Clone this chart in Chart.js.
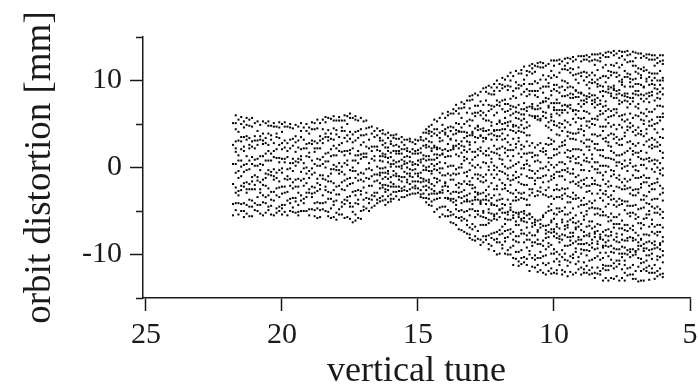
<!DOCTYPE html>
<html>
<head>
<meta charset="utf-8">
<script src="https://cdn.jsdelivr.net/npm/chart.js@4.4.1/dist/chart.umd.min.js"></script>
<style>
  html, body { margin: 0; padding: 0; background: #fff; }
  #wrap { width: 698px; height: 387px; }
</style>
</head>
<body>
<div id="wrap"><canvas id="orbitChart" width="698" height="387"></canvas></div>
<script>
const tunes = [
  21.8, 21.7, 21.6, 21.5, 21.4, 21.3, 21.2, 21.1, 21.0, 20.9,
  20.8, 20.7, 20.6, 20.5, 20.4, 20.3, 20.2, 20.1, 20.0, 19.9,
  19.8, 19.7, 19.6, 19.5, 19.4, 19.3, 19.2, 19.1, 19.0, 18.9,
  18.8, 18.7, 18.6, 18.5, 18.4, 18.3, 18.2, 18.1, 18.0, 17.9,
  17.8, 17.7, 17.6, 17.5, 17.4, 17.3, 17.2, 17.1, 17.0, 16.9,
  16.8, 16.7, 16.6, 16.5, 16.4, 16.3, 16.2, 16.1, 16.0, 15.9,
  15.8, 15.7, 15.6, 15.5, 15.4, 15.3, 15.2, 15.1, 15.0, 14.9,
  14.8, 14.7, 14.6, 14.5, 14.4, 14.3, 14.2, 14.1, 14.0, 13.9,
  13.8, 13.7, 13.6, 13.5, 13.4, 13.3, 13.2, 13.1, 13.0, 12.9,
  12.8, 12.7, 12.6, 12.5, 12.4, 12.3, 12.2, 12.1, 12.0, 11.9,
  11.8, 11.7, 11.6, 11.5, 11.4, 11.3, 11.2, 11.1, 11.0, 10.9,
  10.8, 10.7, 10.6, 10.5, 10.4, 10.3, 10.2, 10.1, 10.0, 9.9,
  9.8, 9.7, 9.6, 9.5, 9.4, 9.3, 9.2, 9.1, 9.0, 8.9,
  8.8, 8.7, 8.6, 8.5, 8.4, 8.3, 8.2, 8.1, 8.0, 7.9,
  7.8, 7.7, 7.6, 7.5, 7.4, 7.3, 7.2, 7.1, 7.0, 6.9,
  6.8, 6.7, 6.6, 6.5, 6.4, 6.3, 6.2, 6.1, 6.0,
];

// orbit distortion [mm] of the dots in each column, top to bottom
const orbit = [
  // 21.8 .. 16.5
  [5.1, 2.6, 0.4, -1.9, -4.2, -5.5],
  [6.0, 5.1, 4.4, 3.0, 2.2, 1.8, 0.4, -0.6, -2.3, -2.9, -4.1, -4.9],
  [5.5, 4.1, 3.1, 1.4, 0.8, -0.4, -1.2, -2.7, -3.2, -4.1, -5.4],
  [5.8, 5.0, 3.5, 3.0, 2.1, 0.8, 0.1, -1.0, -2.1, -2.6, -4.2, -5.0],
  [5.3, 4.6, 3.5, 2.4, 1.9, 0.3, -0.5, -1.8, -2.2, -4.1, -5.0, -5.7],
  [5.7, 4.9, 3.6, 3.2, 1.3, 0.4, -0.3, -1.7, -2.5, -2.9, -4.3, -5.3],
  [5.5, 4.8, 3.4, 2.6, 2.2, 0.8, -0.2, -1.9, -2.5, -3.7, -4.5, -5.6],
  [5.7, 4.7, 3.0, 2.4, 1.2, 0.4, -1.1, -1.6, -2.5, -3.8, -4.5, -5.6],
  [5.1, 3.6, 3.1, 2.2, 0.9, 0.2, -0.9, -2.0, -2.5, -4.1, -4.9],
  [5.3, 4.2, 3.1, 2.6, 1.0, 0.2, -1.1, -1.5, -3.4, -4.3, -5.0],
  [4.9, 3.6, 3.2, 1.3, 0.4, -0.3, -1.7, -2.5, -2.9, -4.3, -5.3],
  [5.3, 3.9, 3.1, 2.7, 1.3, 0.3, -1.4, -2.0, -3.2, -4.0, -5.5],
  [5.1, 3.4, 2.8, 1.6, 0.8, -0.7, -1.2, -2.1, -3.4, -4.1, -5.2],
  [5.3, 4.8, 3.9, 2.6, 1.9, 0.8, -0.3, -0.8, -2.4, -3.2, -4.5, -4.9],
  [4.8, 3.7, 3.2, 1.6, 0.8, -0.5, -0.9, -2.8, -3.7, -4.4, -5.4],
  [5.1, 4.7, 2.8, 1.9, 1.2, -0.2, -1.0, -1.4, -2.8, -3.8, -5.5],
  [4.7, 3.9, 3.5, 2.1, 1.1, -0.6, -1.2, -2.4, -3.2, -4.7, -5.2],
  [5.2, 4.6, 3.4, 2.6, 1.1, 0.6, -0.3, -1.6, -2.3, -3.4, -4.5, -5.0],
  [5.0, 4.1, 2.8, 2.1, 1.0, -0.1, -0.6, -2.2, -3.0, -4.3, -4.7, -5.4],
  [5.2, 4.7, 3.1, 2.3, 1.0, 0.6, -1.3, -2.2, -2.9, -4.3, -5.1],
  [4.7, 2.8, 1.9, 1.2, -0.2, -1.0, -1.4, -2.8, -3.8, -5.5],
  [5.0, 4.6, 3.2, 2.2, 0.5, -0.1, -1.3, -2.1, -3.6, -4.1, -5.0],
  [4.5, 3.3, 2.5, 1.0, 0.5, -0.4, -1.7, -2.4, -3.5, -4.6, -5.1],
  [4.9, 3.6, 2.9, 1.8, 0.7, 0.2, -1.4, -2.2, -3.5, -3.9, -5.2],
  [4.7, 3.1, 2.3, 1.0, 0.6, -1.3, -2.2, -2.9, -4.3, -5.1, -5.5],
  [5.1, 4.2, 3.5, 2.1, 1.3, 0.9, -0.5, -1.5, -3.2, -3.8, -5.0],
  [4.6, 3.2, 2.2, 0.5, -0.1, -1.3, -2.1, -3.6, -4.1, -5.0],
  [5.0, 4.2, 2.7, 2.2, 1.3, 0.0, -0.7, -1.8, -2.9, -3.4, -5.0],
  [4.6, 3.9, 2.8, 1.7, 1.2, -0.4, -1.2, -2.5, -2.9, -4.8, -5.5],
  [5.2, 4.4, 3.1, 2.7, 0.8, -0.1, -0.8, -2.2, -3.0, -3.4, -4.8],
  [5.1, 4.4, 3.0, 2.2, 1.8, 0.4, -0.6, -2.3, -2.9, -4.1, -4.9, -5.6],
  [5.5, 4.5, 2.8, 2.2, 1.0, 0.2, -1.3, -1.8, -2.7, -4.0, -4.7, -5.8],
  [5.1, 3.6, 3.1, 2.2, 0.9, 0.2, -0.9, -2.0, -2.5, -4.1, -4.9, -5.7],
  [5.5, 4.4, 3.3, 2.8, 1.2, 0.4, -0.9, -1.3, -3.2, -4.1, -4.8],
  [5.8, 5.2, 3.9, 3.5, 1.6, 0.7, 0.0, -1.4, -2.2, -2.6, -4.0, -5.0],
  [5.7, 4.3, 3.5, 3.1, 1.7, 0.7, -1.0, -1.6, -2.8, -3.6, -5.1, -5.6],
  [5.6, 3.9, 3.3, 2.1, 1.3, -0.2, -0.7, -1.6, -2.9, -3.6, -4.7, -5.8],
  [5.9, 5.4, 4.5, 3.2, 2.5, 1.4, 0.3, -0.2, -1.8, -2.6, -3.9, -4.3, -5.7],
  [5.4, 4.3, 3.8, 2.2, 1.4, 0.1, -0.3, -2.2, -3.1, -3.8, -5.2, -6.0],
  [5.8, 5.4, 3.5, 2.6, 1.9, 0.5, -0.3, -0.7, -2.1, -3.1, -4.8, -5.4],
  [5.4, 4.6, 4.2, 2.8, 1.8, 0.1, -0.5, -1.7, -2.5, -4.0, -4.5, -5.4],
  [6.0, 5.4, 4.2, 3.4, 1.9, 1.4, 0.5, -0.8, -1.5, -2.6, -3.7, -4.2, -5.8],
  [5.9, 5.0, 3.7, 3.0, 1.9, 0.8, 0.3, -1.3, -2.1, -3.4, -3.8, -5.7],
  [6.2, 5.7, 4.1, 3.3, 2.0, 1.6, -0.3, -1.2, -1.9, -3.3, -4.1, -4.5, -5.9],
  [5.7, 3.8, 2.9, 2.2, 0.8, 0.0, -0.4, -1.8, -2.8, -4.5, -5.1, -6.3],
  [5.9, 5.5, 4.1, 3.1, 1.4, 0.8, -0.4, -1.2, -2.7, -3.2, -4.1, -5.4, -6.1],
  [5.4, 4.2, 3.4, 1.9, 1.4, 0.5, -0.8, -1.5, -2.6, -3.7, -4.2, -5.8],
  [5.7, 4.4, 3.7, 2.6, 1.5, 1.0, -0.6, -1.4, -2.7, -3.1, -5.0, -5.9],
  [5.3, 3.7, 2.9, 1.6, 1.2, -0.7, -1.6, -2.3, -3.7, -4.5, -4.9],
  [5.4, 4.5, 3.8, 2.4, 1.6, 1.2, -0.2, -1.2, -2.9, -3.5, -4.7],
  [4.6, 3.2, 2.2, 0.5, -0.1, -1.3, -2.1, -3.6, -4.1, -5.0],
  [4.7, 3.9, 2.4, 1.9, 1.0, -0.3, -1.0, -2.1, -3.2, -3.7, -4.6],
  [4.2, 3.5, 2.4, 1.3, 0.8, -0.8, -1.6, -2.9, -3.3, -4.4],
  [4.5, 3.7, 2.4, 2.0, 0.1, -0.8, -1.5, -2.9, -3.7, -4.1],
  // 16.4 .. 14.5 (waist)
  [4.2, 3.4, 3.1, 1.9, 1.3, 0.8, -0.1, -0.6, -0.9, -1.8, -2.4, -3.5, -3.9],
  [4.3, 3.9, 3.1, 2.6, 1.6, 1.3, 0.7, -0.1, -0.6, -1.3, -2.0, -2.3, -3.3, -3.8],
  [3.8, 2.8, 2.3, 1.5, 1.2, 0.0, -0.6, -1.1, -2.0, -2.5, -2.8, -3.7, -4.3],
  [4.0, 3.4, 2.3, 1.9, 1.1, 0.6, -0.4, -0.7, -1.3, -2.1, -2.6, -3.3, -4.0],
  [3.7, 3.0, 2.7, 1.7, 1.2, 0.4, 0.1, -1.1, -1.7, -2.2, -3.1, -3.6, -3.9],
  [3.7, 3.4, 2.5, 1.9, 0.8, 0.4, -0.4, -0.9, -1.9, -2.2, -2.8, -3.6],
  [3.8, 3.3, 2.6, 1.9, 1.6, 0.6, 0.1, -0.7, -1.0, -2.2, -2.8, -3.3],
  [3.3, 2.4, 1.9, 1.6, 0.7, 0.1, -1.0, -1.4, -2.2, -2.7, -3.7],
  [3.5, 2.9, 2.1, 1.6, 0.9, 0.2, -0.1, -1.1, -1.6, -2.4, -2.7, -3.4],
  [3.2, 2.6, 2.1, 1.2, 0.7, 0.4, -0.5, -1.1, -2.2, -2.6, -3.4],
  [3.2, 2.2, 1.9, 1.3, 0.5, 0.0, -0.7, -1.4, -1.7, -2.7, -3.2],
  [3.3, 3.0, 1.8, 1.2, 0.7, -0.2, -0.7, -1.0, -1.9, -2.5, -3.1],
  [2.9, 2.1, 1.6, 0.6, 0.3, -0.3, -1.1, -1.6, -2.3, -3.0],
  [3.2, 2.7, 1.9, 1.6, 0.4, -0.2, -0.7, -1.6, -2.1, -2.4, -3.0],
  [3.1, 2.0, 1.6, 0.8, 0.3, -0.7, -1.0, -1.6, -2.4, -2.9],
  [3.5, 3.2, 2.2, 1.7, 0.9, 0.6, -0.6, -1.2, -1.7, -2.6, -3.1, -3.4],
  [4.0, 3.1, 2.5, 1.4, 1.0, 0.2, -0.3, -1.3, -1.6, -2.2, -3.0, -3.5],
  [4.4, 4.0, 3.3, 2.6, 2.3, 1.3, 0.8, 0.0, -0.3, -1.5, -2.1, -2.6, -3.5, -4.0],
  [4.7, 4.2, 3.9, 3.0, 2.4, 1.3, 0.9, 0.1, -0.4, -1.4, -1.7, -2.3, -3.1, -3.6, -4.3],
  [4.9, 4.1, 3.6, 2.9, 2.2, 1.9, 0.9, 0.4, -0.4, -0.7, -1.9, -2.5, -3.0, -3.9, -4.4],
  // 14.4 .. 6.0
  [5.5, 4.4, 3.9, 2.5, 2.3, 1.5, 0.9, 0.2, -0.2, -1.2, -2.1, -2.7, -3.0, -3.7, -5.1],
  [5.3, 4.4, 3.7, 2.3, 2.1, 1.5, 1.1, 0.4, -0.3, -1.3, -1.7, -3.0, -3.6, -4.8],
  [5.7, 4.0, 3.4, 3.0, 2.2, 1.4, 0.6, -0.1, -0.6, -1.5, -2.8, -2.9, -3.5, -4.6, -5.7],
  [6.2, 4.9, 4.2, 3.1, 2.0, 1.6, 1.5, -0.1, -0.9, -2.2, -2.6, -2.9, -4.5, -5.4],
  [5.7, 4.4, 4.0, 3.8, 2.1, 1.2, 0.5, -0.9, -1.7, -1.8, -2.1, -3.5, -4.5, -5.6],
  [6.4, 6.0, 4.6, 3.6, 2.7, 1.9, 1.3, 0.1, -0.7, -2.2, -2.7, -3.5, -3.6, -4.9, -5.6],
  [6.2, 4.7, 4.2, 3.3, 3.2, 2.0, 1.3, 0.2, -0.9, -1.4, -3.0, -3.6, -3.8, -5.1, -5.5, -6.3],
  [6.7, 6.2, 4.6, 3.8, 2.5, 2.3, 2.1, 0.2, -0.7, -1.4, -2.8, -3.6, -4.0, -5.4, -6.4],
  [7.2, 6.5, 5.1, 4.3, 3.9, 3.1, 2.5, 1.5, -0.2, -0.8, -2.0, -2.8, -3.8, -4.3, -4.8, -5.7, -6.6],
  [6.8, 6.2, 5.0, 4.2, 4.1, 2.7, 2.2, 1.3, 0.0, -0.7, -1.8, -2.3, -2.9, -3.4, -5.0, -5.8, -7.1],
  [7.5, 6.8, 5.7, 4.6, 4.1, 3.0, 2.5, 1.7, 0.4, 0.0, -1.9, -2.8, -3.5, -4.1, -4.9, -5.7, -6.1, -7.2],
  [7.3, 6.9, 5.0, 4.1, 3.4, 2.4, 2.0, 1.2, 0.8, -0.6, -1.6, -2.6, -3.3, -3.9, -5.1, -5.9, -7.4],
  [7.7, 6.3, 5.3, 4.0, 3.6, 3.0, 1.8, 1.0, -0.5, -1.0, -1.9, -3.2, -3.7, -3.9, -5.0, -6.1, -6.6, -7.6],
  [8.2, 7.7, 6.8, 5.5, 4.8, 3.7, 2.9, 2.6, 2.1, 0.5, -0.3, -1.6, -2.0, -3.0, -3.9, -4.8, -5.5, -6.9, -7.7, -8.1],
  [8.3, 7.8, 6.2, 5.4, 4.1, 3.9, 3.7, 1.8, 0.9, 0.2, -1.2, -2.0, -2.4, -3.8, -4.2, -4.8, -6.5, -7.1, -8.3],
  [8.5, 7.1, 6.3, 5.9, 4.5, 3.5, 2.9, 1.8, 1.2, 0.0, -0.8, -2.3, -2.8, -3.4, -3.7, -5.0, -5.7, -6.8, -7.9, -8.4],
  [8.3, 7.1, 6.3, 4.8, 4.7, 4.3, 3.4, 2.1, 1.4, 0.3, -0.8, -1.3, -2.9, -3.1, -3.7, -5.0, -5.4, -7.3, -8.2],
  [8.7, 7.6, 6.5, 6.0, 4.4, 3.7, 3.6, 2.3, 1.9, 0.0, -0.9, -1.6, -3.0, -3.8, -4.0, -4.2, -5.6, -6.6, -8.3, -8.9],
  [9.1, 7.2, 6.3, 5.6, 4.5, 4.2, 3.4, 3.0, 1.6, 0.6, -1.1, -1.7, -2.9, -3.7, -5.0, -5.2, -5.7, -6.6, -7.9, -8.6],
  [9.2, 8.7, 7.7, 6.0, 5.4, 4.2, 3.4, 3.3, 1.9, 1.4, 0.5, -0.8, -1.5, -2.6, -3.3, -3.7, -4.2, -5.8, -6.6, -7.9, -8.3],
  [9.4, 8.5, 7.2, 6.5, 5.4, 4.3, 3.8, 2.2, 1.4, 0.1, -0.3, -2.2, -3.1, -3.8, -4.8, -5.2, -6.0, -6.4, -7.8, -8.8, -9.4],
  [9.2, 8.4, 7.1, 6.7, 5.2, 4.8, 3.9, 3.2, 1.8, 1.0, 0.6, -0.8, -1.8, -3.5, -4.1, -4.3, -5.3, -6.1, -7.6, -8.1, -9.0],
  [9.6, 8.8, 8.4, 7.0, 6.0, 4.3, 4.2, 3.7, 2.5, 1.7, 0.2, -0.3, -1.2, -2.5, -3.2, -4.3, -5.4, -5.6, -5.9, -7.5, -8.3, -9.6],
  [10.0, 9.2, 7.7, 7.2, 6.3, 5.0, 4.3, 3.6, 3.2, 2.1, 1.6, 0.0, -0.8, -2.1, -2.5, -3.8, -4.4, -5.3, -6.0, -7.4, -8.2, -8.6, -10.0],
  [9.6, 8.8, 7.5, 7.1, 5.4, 5.2, 4.3, 3.6, 2.2, 1.4, 1.0, -0.4, -1.4, -3.1, -3.7, -4.8, -4.9, -5.7, -7.2, -7.7, -8.6, -9.9],
  [10.3, 9.5, 9.1, 7.7, 6.7, 5.0, 4.4, 3.9, 3.2, 2.4, 0.9, 0.4, -0.5, -1.8, -2.5, -3.6, -4.2, -4.7, -5.2, -6.8, -7.6, -8.9, -9.3],
  [10.1, 9.3, 7.8, 7.3, 6.4, 5.7, 5.1, 4.4, 3.3, 2.2, 1.7, 0.1, -0.7, -2.0, -2.4, -4.3, -5.2, -5.9, -6.5, -7.3, -8.1, -8.5, -9.9],
  [10.5, 9.4, 8.9, 7.3, 6.5, 5.2, 4.8, 3.7, 2.9, 2.0, 1.3, -0.1, -0.9, -1.3, -2.7, -3.7, -5.1, -5.4, -6.0, -7.2, -8.0, -9.5, -10.0],
  [10.9, 10.0, 9.3, 7.9, 7.1, 6.7, 6.0, 5.3, 4.3, 2.6, 2.0, 0.8, 0.0, -1.5, -2.0, -2.9, -4.2, -4.6, -4.9, -6.0, -7.1, -7.6, -9.2, -10.0],
  [10.5, 8.8, 8.2, 7.0, 6.2, 4.9, 4.7, 4.2, 3.3, 2.0, 1.3, 0.2, -0.9, -1.4, -3.0, -3.8, -5.1, -5.5, -5.8, -7.4, -8.3, -9.0, -10.4, -11.2],
  [11.1, 9.8, 9.1, 8.0, 6.9, 6.4, 5.7, 4.8, 4.0, 2.7, 2.3, 0.4, -0.5, -1.2, -2.6, -3.4, -3.8, -5.2, -6.2, -6.6, -7.9, -8.5, -9.7, -10.5],
  [10.8, 9.5, 9.1, 7.2, 6.3, 5.6, 4.6, 4.2, 3.4, 3.0, 1.6, 0.6, -1.1, -1.7, -2.9, -3.7, -5.2, -5.4, -5.7, -6.6, -7.9, -8.6, -9.7, -10.8, -11.3],
  [11.2, 10.8, 9.4, 8.4, 6.7, 6.1, 5.4, 4.9, 4.1, 2.6, 2.1, 1.2, -0.1, -0.8, -1.9, -3.0, -3.5, -5.1, -5.9, -6.1, -7.2, -7.6, -9.5, -10.4, -11.1],
  [11.6, 10.1, 9.6, 8.7, 7.4, 6.7, 6.1, 5.6, 4.5, 4.0, 2.4, 1.6, 0.3, -0.1, -2.0, -2.9, -3.6, -5.0, -5.3, -5.8, -6.2, -7.6, -8.6, -10.3, -10.9],
  [11.1, 10.6, 9.0, 8.2, 6.9, 6.5, 5.2, 4.6, 3.7, 3.0, 1.6, 0.8, 0.4, -1.0, -2.0, -3.7, -4.3, -5.5, -6.3, -6.9, -7.8, -8.3, -9.2, -10.5, -11.2],
  [11.7, 11.0, 9.6, 8.8, 8.4, 7.0, 6.0, 4.8, 3.7, 2.5, 1.7, 0.2, -0.3, -1.2, -2.5, -3.2, -4.3, -5.3, -5.4, -5.9, -7.5, -8.3, -9.6, -10.0, -11.9],
  [11.9, 11.4, 10.8, 9.6, 8.8, 7.3, 7.0, 6.8, 5.9, 2.8, 1.7, 1.2, -0.4, -1.2, -2.5, -2.9, -5.7, -6.4, -6.8, -7.8, -8.6, -9.0, -10.4, -11.4],
  [11.7, 11.0, 9.9, 8.8, 8.3, 6.7, 5.9, 5.7, 2.3, 1.4, 0.7, -0.7, -1.5, -1.9, -3.3, -6.0, -6.3, -6.6, -7.8, -8.6, -10.1, -10.6, -11.5],
  [12.0, 11.6, 9.7, 8.8, 8.1, 7.1, 6.7, 5.9, 5.5, 2.6, 1.4, 0.8, -0.4, -1.2, -2.7, -3.2, -6.1, -7.2, -7.4, -8.3, -8.8, -10.4, -11.2, -12.0],
  [12.1, 11.5, 10.1, 9.1, 7.4, 6.8, 5.6, 5.4, 2.8, 1.9, 0.6, -0.1, -1.2, -2.3, -2.8, -6.0, -6.5, -6.9, -8.8, -9.7, -10.4, -11.8],
  [12.0, 11.5, 10.6, 9.3, 8.6, 7.6, 7.5, 6.4, 5.9, 2.2, 1.8, -0.1, -1.0, -1.7, -3.1, -5.5, -5.7, -6.7, -8.4, -9.0, -10.2, -11.0, -12.1],
  [11.7, 10.1, 9.3, 8.0, 7.6, 6.3, 5.7, 4.8, 2.7, 1.9, 1.5, 0.1, -0.9, -2.6, -3.2, -5.2, -6.7, -7.2, -7.6, -8.1, -9.4, -10.1, -11.2, -12.3],
  [11.9, 10.5, 9.7, 9.3, 7.9, 7.1, 6.9, 5.2, 4.6, 3.4, 2.6, 1.1, 0.6, -0.3, -1.6, -2.3, -3.4, -4.5, -5.0, -6.6, -7.4, -8.0, -8.7, -9.1, -11.0, -11.9],
  [12.3, 11.1, 10.3, 8.8, 8.3, 7.4, 6.1, 5.8, 5.4, 4.3, 3.2, 2.7, 1.1, 0.3, -1.0, -1.4, -3.3, -4.2, -4.9, -6.1, -6.3, -7.1, -7.5, -8.9, -9.9, -11.6, -12.2],
  [12.3, 11.7, 10.6, 9.5, 9.0, 7.4, 6.9, 6.6, 5.3, 4.9, 3.0, 2.1, 1.4, 0.0, -0.8, -1.2, -2.6, -3.6, -5.3, -5.9, -7.1, -7.4, -7.9, -9.4, -9.9, -10.8, -12.1],
  [12.3, 10.4, 9.5, 8.8, 7.8, 7.4, 6.6, 6.2, 4.8, 3.8, 2.1, 1.5, 0.3, -0.5, -2.0, -2.5, -3.4, -4.7, -5.4, -6.5, -6.8, -7.6, -8.1, -9.7, -10.5, -11.8, -12.2],
  [12.4, 11.9, 10.9, 9.2, 8.6, 7.4, 6.6, 6.0, 5.1, 4.6, 3.7, 2.4, 1.7, 0.6, -0.5, -1.0, -2.6, -3.4, -4.7, -5.1, -7.0, -7.9, -8.2, -8.6, -10.0, -10.8, -11.2],
  [12.2, 11.3, 10.0, 9.3, 8.2, 7.1, 6.6, 6.3, 5.0, 4.2, 2.9, 2.5, 0.6, -0.3, -1.0, -2.4, -3.2, -3.6, -5.0, -6.0, -6.3, -7.7, -8.3, -9.5, -10.3, -11.8, -12.3],
  [12.5, 11.7, 11.3, 9.9, 8.9, 8.2, 7.2, 6.6, 5.4, 4.6, 3.1, 2.6, 1.7, 0.4, -0.3, -1.4, -2.5, -3.0, -4.6, -5.4, -6.7, -7.1, -7.8, -9.0, -9.9, -10.6, -12.0],
  [12.6, 12.0, 11.2, 9.7, 9.2, 8.3, 7.1, 7.0, 6.3, 5.2, 4.1, 3.6, 2.0, 1.2, -0.1, -0.5, -2.4, -3.3, -4.0, -5.4, -6.2, -6.6, -6.9, -8.0, -9.0, -10.7, -11.3, -12.5],
  [12.5, 11.4, 10.9, 9.3, 8.5, 8.0, 7.2, 6.8, 4.9, 4.0, 3.3, 1.9, 1.1, 0.7, -0.7, -1.7, -3.4, -4.0, -5.2, -6.0, -7.5, -8.0, -8.4, -8.9, -10.2, -10.9, -12.0],
  [12.7, 12.2, 11.3, 10.6, 9.2, 8.4, 8.0, 6.6, 6.5, 5.6, 3.9, 3.3, 2.1, 1.3, -0.2, -0.7, -1.6, -2.9, -3.6, -4.7, -5.8, -6.3, -7.5, -7.9, -8.7, -10.0, -10.4, -12.3],
  [12.4, 10.7, 10.1, 8.9, 8.8, 8.1, 6.6, 6.1, 5.2, 3.9, 3.2, 2.1, 1.0, 0.5, -1.1, -1.9, -3.2, -3.6, -5.5, -6.4, -6.9, -7.1, -8.5, -9.3, -9.7, -11.1, -12.1],
  [12.8, 11.5, 10.8, 9.7, 8.6, 8.1, 7.3, 6.5, 5.7, 4.4, 4.0, 2.1, 1.2, 0.5, -0.9, -1.7, -2.1, -3.5, -4.5, -6.2, -6.8, -8.0, -8.3, -8.8, -10.3, -10.8, -11.7],
  [12.8, 12.2, 10.9, 10.5, 8.6, 8.5, 7.7, 7.0, 5.6, 4.8, 4.4, 3.0, 2.0, 0.3, -0.3, -1.5, -2.3, -3.8, -4.3, -5.2, -6.5, -7.2, -8.3, -8.8, -9.4, -9.9, -11.5, -12.3],
  [12.8, 12.4, 11.0, 10.0, 8.3, 7.7, 7.3, 6.5, 5.7, 4.2, 3.7, 2.8, 1.5, 0.8, -0.3, -1.4, -1.9, -3.5, -4.3, -5.6, -6.0, -7.4, -7.9, -8.8, -9.5, -10.9, -11.7, -12.1],
  [12.9, 12.4, 10.9, 10.4, 9.5, 8.2, 7.9, 7.5, 6.4, 5.3, 4.8, 3.2, 2.4, 1.1, 0.7, -1.2, -2.1, -2.8, -4.2, -5.0, -5.4, -6.8, -7.8, -8.7, -9.5, -10.1, -11.3, -12.1],
  [12.7, 12.2, 10.6, 9.8, 9.1, 8.5, 8.1, 6.2, 5.3, 4.6, 3.2, 2.4, 2.0, 0.6, -0.4, -2.1, -2.7, -3.9, -4.7, -6.2, -6.7, -7.6, -7.9, -8.9, -9.6, -10.7, -11.8, -12.3],
  [13.0, 12.3, 10.9, 10.1, 9.7, 8.3, 7.7, 7.3, 5.6, 5.0, 3.8, 3.0, 1.5, 1.0, 0.1, -1.2, -1.9, -3.0, -4.1, -4.6, -6.2, -7.0, -8.3, -8.7, -9.2, -10.6, -11.5, -12.2],
  [13.0, 12.4, 11.8, 10.6, 9.8, 8.3, 7.8, 7.5, 6.9, 5.6, 4.9, 3.8, 2.7, 2.2, 0.6, -0.2, -1.5, -1.9, -3.8, -4.7, -5.4, -6.8, -7.4, -7.6, -8.0, -9.4, -10.4, -12.1, -12.7],
  [13.0, 12.3, 11.2, 10.1, 9.6, 9.3, 8.0, 7.2, 5.9, 5.5, 3.6, 2.7, 2.0, 0.6, -0.2, -0.6, -2.0, -3.0, -4.7, -5.3, -6.5, -7.3, -8.5, -8.8, -9.3, -10.2, -11.5, -12.2],
  [13.1, 12.6, 12.2, 10.3, 9.4, 8.7, 7.7, 7.3, 6.5, 6.1, 4.7, 3.7, 2.0, 1.4, 0.2, -0.6, -2.1, -2.6, -3.5, -4.8, -5.5, -6.6, -7.7, -8.0, -8.2, -9.8, -10.6, -11.9, -12.3],
  [12.9, 11.5, 10.5, 9.3, 8.8, 8.2, 7.0, 6.2, 4.7, 4.2, 3.3, 2.0, 1.3, 0.2, -0.9, -1.4, -3.0, -3.8, -5.1, -5.5, -7.4, -8.3, -9.0, -9.2, -10.4, -11.2, -11.6, -13.0],
  [13.2, 12.7, 11.8, 10.5, 9.8, 8.7, 7.6, 7.1, 6.5, 5.5, 4.7, 3.4, 3.0, 1.1, 0.2, -0.5, -1.9, -2.7, -3.1, -4.5, -5.5, -7.2, -7.8, -8.6, -9.0, -9.8, -11.3, -11.8, -12.7],
  [13.3, 12.7, 11.1, 10.3, 9.3, 9.0, 8.6, 6.7, 5.8, 5.1, 3.7, 2.9, 2.5, 1.1, 0.1, -1.6, -2.2, -3.4, -4.2, -5.7, -6.2, -7.1, -7.9, -8.4, -9.1, -10.2, -11.3, -11.8, -13.0],
  [13.2, 11.8, 11.0, 10.6, 9.2, 8.5, 8.2, 6.5, 5.9, 4.7, 3.9, 2.4, 1.9, 1.0, -0.3, -1.0, -2.1, -3.2, -3.7, -5.3, -6.1, -7.4, -7.8, -9.0, -9.7, -10.6, -11.3, -12.7],
  [13.4, 12.9, 11.7, 10.9, 9.4, 9.1, 8.9, 8.0, 6.7, 6.0, 4.9, 3.8, 3.3, 1.7, 0.9, -0.4, -0.8, -2.7, -3.6, -4.3, -5.7, -6.5, -6.9, -8.3, -9.3, -9.8, -11.0, -11.6, -12.8],
  [13.1, 12.0, 10.9, 10.4, 8.8, 8.4, 8.0, 6.7, 6.3, 4.4, 3.5, 2.8, 1.4, 0.6, 0.2, -1.2, -2.2, -3.9, -4.5, -5.7, -6.5, -7.6, -8.0, -8.5, -9.4, -10.7, -11.4, -12.5],
  [13.4, 12.6, 11.5, 10.6, 9.9, 8.9, 8.5, 7.7, 7.3, 5.9, 4.9, 3.2, 2.6, 1.4, 0.6, -0.9, -1.4, -2.3, -3.6, -4.3, -5.4, -6.5, -7.0, -8.6, -9.4, -9.9, -10.7, -11.1, -13.0],
  [13.3, 12.8, 11.8, 10.1, 9.8, 9.5, 8.3, 7.5, 6.0, 5.5, 4.6, 3.3, 2.6, 1.5, 0.4, -0.1, -1.7, -2.5, -3.8, -4.2, -6.1, -7.0, -7.7, -8.3, -9.1, -9.9, -10.3, -11.7, -12.7],
  [13.3, 12.4, 11.1, 10.4, 9.3, 8.5, 8.2, 7.7, 6.1, 5.3, 4.0, 3.6, 1.7, 0.8, 0.1, -1.3, -2.1, -2.5, -3.9, -4.9, -6.6, -7.2, -8.4, -9.2, -9.9, -10.7, -11.2, -12.1, -13.0],
  [13.4, 12.9, 12.1, 10.8, 10.4, 8.5, 8.1, 7.6, 6.9, 5.5, 4.7, 4.3, 2.9, 1.9, 0.2, -0.4, -1.6, -2.4, -3.9, -4.4, -5.3, -6.6, -7.3, -8.1, -8.4, -9.5, -10.0, -11.6, -12.4],
  [13.0, 12.2, 10.7, 10.2, 9.8, 9.3, 8.0, 7.3, 6.2, 5.1, 4.6, 3.0, 2.2, 0.9, 0.5, -1.4, -2.3, -3.0, -4.4, -5.2, -5.6, -7.0, -8.0, -9.4, -9.7, -10.3, -11.5, -12.3],
  [13.3, 12.2, 11.7, 10.1, 9.3, 8.5, 8.0, 7.6, 5.7, 4.8, 4.1, 2.7, 1.9, 1.5, 0.1, -0.9, -2.6, -3.2, -4.4, -5.2, -6.7, -7.2, -8.1, -8.4, -9.4, -10.1, -11.2, -12.3, -12.8],
  [13.2, 12.6, 11.7, 11.0, 10.2, 9.6, 8.8, 8.4, 7.0, 6.0, 4.3, 3.7, 2.5, 1.7, 0.2, -0.3, -1.2, -2.5, -3.2, -4.3, -5.4, -5.9, -7.5, -8.3, -9.6, -9.7, -10.0, -11.9, -12.8],
  [13.1, 11.4, 10.8, 9.6, 8.8, 8.3, 7.3, 6.8, 5.9, 4.6, 3.9, 2.8, 1.7, 1.2, -0.4, -1.2, -2.5, -2.9, -4.8, -5.7, -6.4, -7.8, -8.6, -9.0, -9.4, -10.4, -11.4, -13.1],
  [13.1, 12.6, 11.3, 10.6, 10.3, 9.5, 8.4, 7.9, 6.3, 5.5, 4.2, 3.8, 1.9, 1.0, 0.3, -1.1, -1.9, -2.3, -3.7, -4.7, -6.4, -7.0, -8.2, -8.3, -9.0, -10.5, -11.0, -11.9, -13.0],
  [12.8, 11.5, 11.1, 9.3, 9.2, 8.3, 7.6, 6.2, 5.4, 5.0, 3.6, 2.6, 0.9, 0.3, -0.9, -1.7, -3.2, -3.7, -4.6, -5.9, -6.6, -7.7, -8.8, -9.3, -9.6, -10.9, -11.7, -13.0],
  [13.0, 12.6, 11.2, 10.2, 9.9, 8.5, 7.9, 6.7, 5.9, 4.4, 3.9, 3.0, 1.7, 1.0, -0.1, -1.2, -1.7, -3.3, -4.1, -5.4, -5.8, -7.7, -8.6, -9.3, -10.1, -10.7, -11.5, -11.9],
  [13.0, 12.4, 10.9, 10.4, 9.5, 8.6, 8.2, 7.5, 6.4, 5.3, 4.8, 3.2, 2.4, 1.1, 0.7, -1.2, -2.1, -2.8, -4.2, -5.0, -5.4, -6.8, -7.8, -8.5, -9.5, -10.1, -11.3, -12.1, -12.9],
  [12.9, 12.4, 10.8, 10.0, 9.6, 8.7, 8.3, 6.4, 5.5, 4.8, 3.4, 2.6, 2.2, 0.8, -0.2, -1.9, -2.5, -3.7, -4.5, -6.0, -6.5, -7.4, -8.7, -9.4, -9.9, -10.5, -11.6, -12.1],
  [12.9, 12.4, 11.7, 10.8, 10.3, 9.5, 9.1, 7.7, 6.7, 5.0, 4.4, 3.2, 2.4, 0.9, 0.4, -0.5, -1.8, -2.5, -3.6, -4.7, -5.2, -6.8, -7.6, -8.5, -8.9, -9.3, -11.2, -12.1, -12.8],
  [12.6, 12.0, 10.8, 10.0, 9.0, 8.5, 8.0, 7.1, 5.8, 5.1, 4.0, 2.9, 2.4, 0.8, 0.0, -1.3, -1.7, -3.6, -4.5, -5.2, -6.6, -7.4, -7.8, -9.2, -10.2, -10.6, -11.9, -12.5],
  [12.9, 12.2, 11.1, 10.0, 9.5, 8.7, 7.9, 7.1, 5.8, 5.4, 3.5, 2.6, 1.9, 0.5, -0.3, -0.7, -2.1, -3.1, -4.8, -5.4, -6.6, -7.4, -8.7, -8.9, -9.4, -10.3, -11.6, -12.3],
  [12.9, 12.3, 11.9, 10.3, 10.0, 9.1, 8.4, 7.0, 6.2, 5.8, 4.4, 3.4, 1.7, 1.1, -0.1, -0.9, -2.4, -2.9, -3.8, -5.1, -5.8, -6.9, -8.0, -8.5, -9.6, -10.1, -10.9, -12.2, -12.6],
];

const xTickValues = [25, 20, 15, 10, 5];
const yTickValues = [-15, -10, -5, 0, 5, 10, 15];
const yTickLabels = ['', '-10', '', '0', '', '10', ''];
const yMinorTicks = [-15, -5, 5, 15];

const ink = '#1a1a1a';
const serif = 'Liberation Serif, Times New Roman, serif';

const points = [];
tunes.forEach((t, i) => {
  (orbit[i] || []).forEach((y) => points.push({ x: t, y }));
});

// short ticks at the unlabelled y positions
const minorTickPlugin = {
  id: 'minorTicks',
  afterDraw(chart) {
    const { ctx, scales: { y } } = chart;
    ctx.save();
    ctx.strokeStyle = ink;
    ctx.lineWidth = 1.5;
    yMinorTicks.forEach((v) => {
      const py = Math.round(y.getPixelForValue(v)) + 0.5;
      ctx.beginPath();
      ctx.moveTo(y.right - 7, py);
      ctx.lineTo(y.right, py);
      ctx.stroke();
    });
    ctx.restore();
  },
};

new Chart(document.getElementById('orbitChart'), {
  type: 'scatter',
  data: {
    datasets: [
      {
        data: points,
        pointStyle: 'rect',
        pointRadius: 1.42,
        pointHoverRadius: 1.42,
        backgroundColor: '#000',
        borderWidth: 0,
      },
    ],
  },
  options: {
    responsive: false,
    animation: false,
    events: [],
    layout: { padding: { top: 37, right: 8, left: 0, bottom: 0 } },
    plugins: {
      legend: { display: false },
      tooltip: { enabled: false },
    },
    scales: {
      x: {
        type: 'linear',
        position: 'bottom',
        reverse: true,
        min: 5,
        max: 25.11,
        afterBuildTicks: (scale) => {
          scale.ticks = xTickValues.map((v) => ({ value: v }));
        },
        afterFit: (scale) => {
          scale.height = 89;
          scale.paddingLeft = 0;
          scale.paddingRight = 0;
        },
        border: { color: ink, width: 1.5 },
        grid: { drawOnChartArea: false, tickLength: 13, tickColor: ink, tickWidth: 1.5 },
        ticks: {
          color: ink,
          padding: 6,
          maxRotation: 0,
          font: { family: serif, size: 30 },
        },
        title: {
          display: true,
          text: 'vertical tune',
          color: ink,
          font: { family: serif, size: 36, lineHeight: 0.85 },
          padding: { top: 0, bottom: 0 },
        },
      },
      y: {
        min: -15,
        max: 15,
        afterBuildTicks: (scale) => {
          scale.ticks = yTickValues.map((v) => ({ value: v }));
        },
        afterFit: (scale) => {
          scale.width = 143;
        },
        border: { color: ink, width: 1.5 },
        grid: {
          drawOnChartArea: false,
          tickLength: 13,
          tickWidth: 1.5,
          tickColor: (ctx) => (yMinorTicks.includes(ctx.tick && ctx.tick.value) ? 'rgba(0,0,0,0)' : ink),
        },
        ticks: {
          color: ink,
          padding: 8,
          font: { family: serif, size: 30 },
          callback: (value) => yTickLabels[yTickValues.indexOf(value)] ?? '',
        },
        title: {
          display: true,
          text: 'orbit distortion [mm]',
          color: ink,
          font: { family: serif, size: 37, lineHeight: 1 },
          padding: { top: 22, bottom: 0 },
        },
      },
    },
  },
  plugins: [minorTickPlugin],
});
</script>
</body>
</html>
